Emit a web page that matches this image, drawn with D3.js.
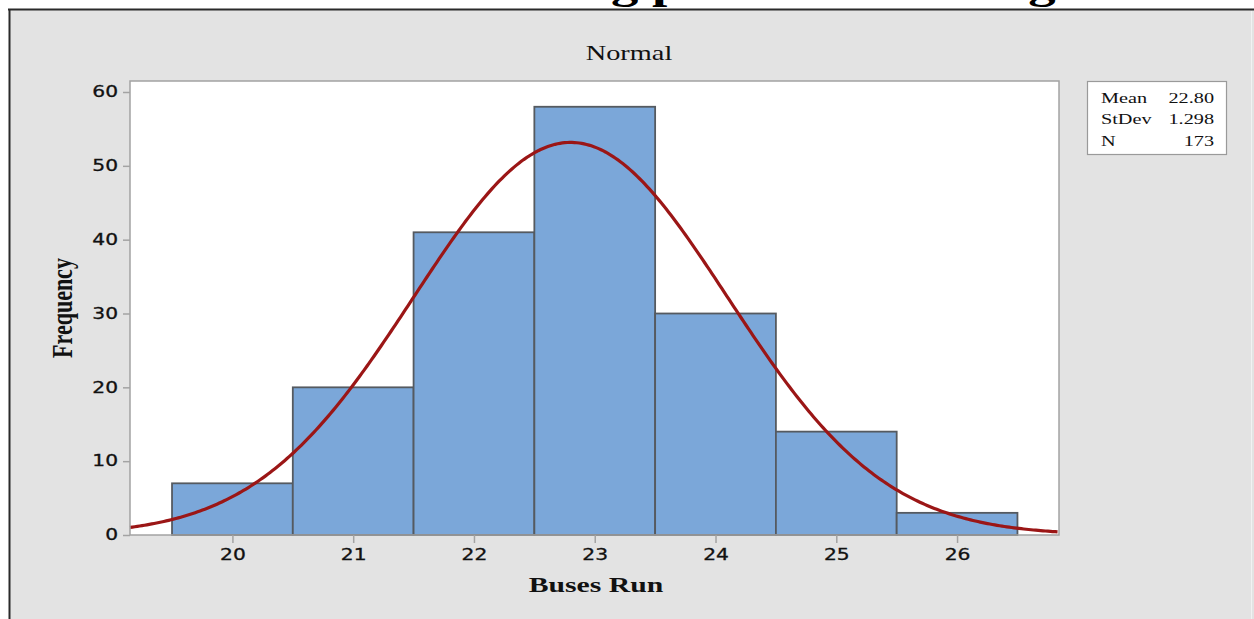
<!DOCTYPE html>
<html>
<head>
<meta charset="utf-8">
<script src="https://cdn.jsdelivr.net/npm/d3@7"></script>
<style>
  html, body { margin: 0; padding: 0; background: #ffffff; }
  svg { display: block; }
</style>
</head>
<body>
<svg id="chart" width="1254" height="619"></svg>
<script>
// Histogram of buses run, with fitted normal curve
const binCenters = [20, 21, 22, 23, 24, 25, 26];
const frequencies = [7, 20, 41, 58, 30, 14, 3];
const binWidth = 1;
const xTicks = [20, 21, 22, 23, 24, 25, 26];
const yTicks = [0, 10, 20, 30, 40, 50, 60];
const statLabels = ["Mean", "StDev", "N"];
const statValues = ["22.80", "1.298", "173"];
const fitMean = 22.80;
const fitSd = 1.298;
const fitN = 173;
const xDomain = [19.152, 26.844];
const yDomain = [0, 60];

const svg = d3.select("#chart");
const W = 1254, H = 619;
const serif = "'Liberation Serif', 'Times New Roman', serif";
const sans = "'DejaVu Sans', Verdana, sans-serif";
const stretch = 1.35; // glyphs are drawn wide

// page heading above the panel; only the letters that hang below the line reach the page
const headingG = svg.append("g");
const heading = headingG.append("text")
  .attr("x", 0).attr("y", 0)
  .attr("font-family", serif)
  .attr("font-weight", "bold")
  .attr("font-size", 26)
  .attr("fill", "#000")
  .text("Chart Showing plan for Running");
(function placeHeading() {
  const node = heading.node();
  const t = node.textContent;
  const i1 = t.indexOf("g ");
  const i2 = t.lastIndexOf("g");
  let fs = 26;
  for (let k = 0; k < 3; k++) {
    const p1 = node.getStartPositionOfChar(i1).x;
    const p2 = node.getStartPositionOfChar(i2).x;
    fs = fs * ((1028 - 611) / stretch) / (p2 - p1);
    heading.attr("font-size", fs);
  }
  const p1 = node.getStartPositionOfChar(i1).x;
  const tx = 611 - p1 * stretch;
  headingG.attr("transform", `translate(${tx},-2) scale(${stretch},1)`);
  // blank out the page strip around glyphs that do not hang below the line
  for (let i = 0; i < t.length; i++) {
    if (!"gpqyj".includes(t[i])) {
      const e = node.getExtentOfChar(i);
      svg.append("rect")
        .attr("x", tx + e.x * stretch).attr("y", 0)
        .attr("width", e.width * stretch).attr("height", 9)
        .attr("fill", "#ffffff");
    }
  }
})();

// outer panel
svg.append("rect").attr("x", 9).attr("y", 9.5).attr("width", W - 9).attr("height", H - 9)
  .attr("fill", "#e3e3e3");
svg.append("line").attr("x1", 8).attr("x2", W).attr("y1", 9.5).attr("y2", 9.5)
  .attr("stroke", "#2a2a2a").attr("stroke-width", 2);
svg.append("line").attr("x1", 9.5).attr("x2", 9.5).attr("y1", 9).attr("y2", H)
  .attr("stroke", "#2a2a2a").attr("stroke-width", 2);
svg.append("line").attr("x1", 1251.5).attr("x2", 1251.5).attr("y1", 11).attr("y2", H)
  .attr("stroke", "#f2f2f2").attr("stroke-width", 1);

// scales
const plot = { left: 130, right: 1059, top: 81, bottom: 535 };
const x = d3.scaleLinear().domain(xDomain).range([plot.left, plot.right]);
const y = d3.scaleLinear().domain(yDomain).range([plot.bottom, 92]);

// plot background
svg.append("rect")
  .attr("x", plot.left).attr("y", plot.top)
  .attr("width", plot.right - plot.left).attr("height", plot.bottom - plot.top)
  .attr("fill", "#ffffff");

// bars
svg.append("g").selectAll("rect")
  .data(binCenters.map((c, i) => ({ c, f: frequencies[i] })))
  .join("rect")
  .attr("x", d => x(d.c - binWidth / 2))
  .attr("width", d => x(d.c + binWidth / 2) - x(d.c - binWidth / 2))
  .attr("y", d => y(d.f))
  .attr("height", d => y(0) - y(d.f))
  .attr("fill", "#7ba7d9")
  .attr("stroke", "#555a60")
  .attr("stroke-width", 1.8);

// fitted normal density scaled to counts
const pdf = v => Math.exp(-0.5 * Math.pow((v - fitMean) / fitSd, 2)) / (fitSd * Math.sqrt(2 * Math.PI));
const curvePts = d3.range(xDomain[0], xDomain[1] + 1e-9, 0.02).map(v => [v, fitN * binWidth * pdf(v)]);
svg.append("path")
  .datum(curvePts)
  .attr("fill", "none")
  .attr("stroke", "#9b1616")
  .attr("stroke-width", 3.2)
  .attr("d", d3.line().x(d => x(d[0])).y(d => y(d[1])));

// plot frame
svg.append("rect")
  .attr("x", plot.left).attr("y", plot.top)
  .attr("width", plot.right - plot.left).attr("height", plot.bottom - plot.top)
  .attr("fill", "none").attr("stroke", "#a3a3a3").attr("stroke-width", 1.5);

// axes
const yAxis = svg.append("g")
  .attr("transform", `translate(${plot.left},0)`)
  .call(d3.axisLeft(y).tickValues(yTicks).tickSize(7).tickPadding(5).tickFormat(d3.format("d")));
const xAxis = svg.append("g")
  .attr("transform", `translate(0,${plot.bottom})`)
  .call(d3.axisBottom(x).tickValues(xTicks).tickSize(8).tickPadding(6).tickFormat(d3.format("d")));
[yAxis, xAxis].forEach(a => {
  a.select(".domain").remove();
  a.selectAll(".tick line").attr("stroke", "#a3a3a3").attr("stroke-width", 1.5);
  a.selectAll(".tick text")
    .attr("font-family", sans).attr("font-size", 15).attr("fill", "#111")
    .attr("stroke", "#111").attr("stroke-width", 0.3);
});
yAxis.selectAll(".tick text").attr("x", -12 / stretch).attr("transform", `scale(${stretch},1)`);
xAxis.selectAll(".tick text").attr("transform", `scale(${stretch},1)`);

// stretched text helper
function wideText(px, py, str, opts) {
  const g = svg.append("g").attr("transform", `translate(${px},${py}) scale(${stretch},1)`);
  return g.append("text").attr("x", 0).attr("y", 0)
    .attr("font-family", serif).attr("fill", "#111")
    .attr("font-size", opts.size)
    .attr("font-weight", opts.weight || "normal")
    .attr("text-anchor", opts.anchor || "start")
    .text(str);
}

// titles
wideText(629, 60, "Normal", { size: 21, anchor: "middle" });
wideText(596, 592, "Buses Run", { size: 22, weight: "bold", anchor: "middle" });

svg.append("text")
  .attr("transform", `translate(72,${(plot.top + plot.bottom) / 2}) rotate(-90) scale(1,${stretch})`)
  .attr("text-anchor", "middle")
  .attr("font-family", serif)
  .attr("font-weight", "bold")
  .attr("font-size", 22)
  .attr("fill", "#111")
  .text("Frequency");

// stats box
svg.append("rect")
  .attr("x", 1087.5).attr("y", 81.5).attr("width", 139).attr("height", 73)
  .attr("fill", "#ffffff").attr("stroke", "#9a9a9a").attr("stroke-width", 1.2);
const rowY = [103, 124, 146];
statLabels.forEach((lab, i) => {
  wideText(1101, rowY[i], lab, { size: 15 });
  wideText(1214, rowY[i], statValues[i], { size: 15, anchor: "end" });
});
</script>
</body>
</html>
